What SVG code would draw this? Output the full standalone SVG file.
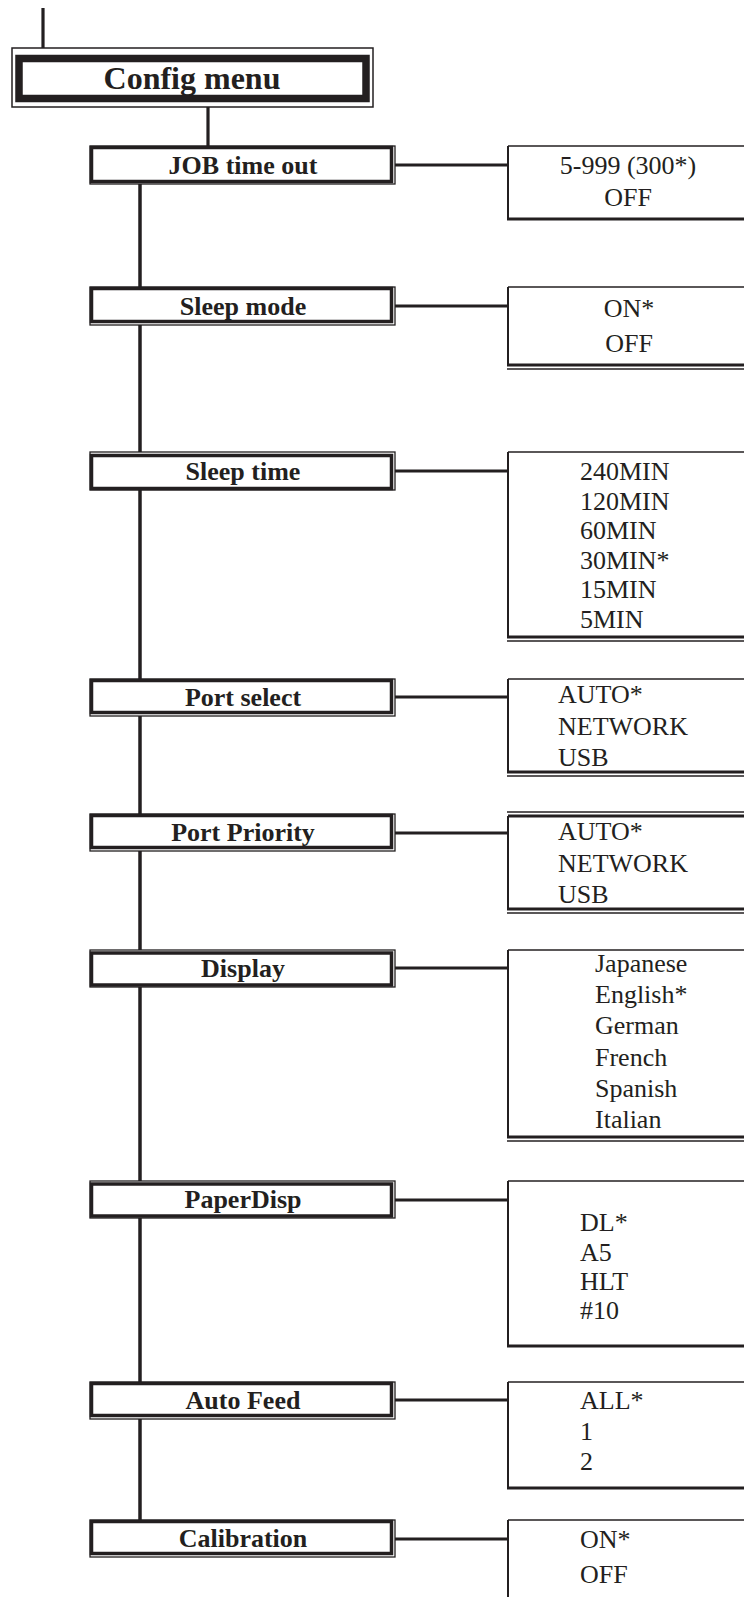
<svg xmlns="http://www.w3.org/2000/svg" width="744" height="1597" viewBox="0 0 744 1597">
<style>
.bg{fill:#ffffff}
.ln{stroke:#231f20;stroke-width:3.2;fill:none}
.spine{stroke:#231f20;stroke-width:3.5;fill:none}
.thin{stroke:#231f20;stroke-width:1.3;fill:#ffffff}
.thick{stroke:#231f20;stroke-width:3.5;fill:#ffffff}
.oleft{stroke:#231f20;stroke-width:2;fill:none}
.otop{stroke:#231f20;stroke-width:1.5;fill:none}
.obot{stroke:#231f20;stroke-width:3;fill:none}
.lbl{font-family:"Liberation Serif","Times New Roman",serif;font-weight:bold;font-size:26px;fill:#231f20;text-anchor:middle}
.opt{font-family:"Liberation Serif","Times New Roman",serif;font-size:26px;fill:#231f20}
.ctr{text-anchor:middle}
</style>
<rect class="bg" x="0" y="0" width="744" height="1597"/>

<g id="connectors">
<line class="ln" x1="43" y1="8" x2="43" y2="48"/>
<line class="ln" x1="208" y1="107" x2="208" y2="146"/>
<line class="spine" x1="140" y1="184" x2="140" y2="1522"/>
<line class="ln" x1="394" y1="165" x2="508" y2="165"/>
<line class="ln" x1="394" y1="306" x2="508" y2="306"/>
<line class="ln" x1="394" y1="471" x2="508" y2="471"/>
<line class="ln" x1="394" y1="697" x2="508" y2="697"/>
<line class="ln" x1="394" y1="833" x2="508" y2="833"/>
<line class="ln" x1="394" y1="968" x2="508" y2="968"/>
<line class="ln" x1="394" y1="1200" x2="508" y2="1200"/>
<line class="ln" x1="394" y1="1400" x2="508" y2="1400"/>
<line class="ln" x1="394" y1="1539" x2="508" y2="1539"/>
</g>

<g id="config-menu">
<rect x="12" y="48" width="361" height="59" fill="#ffffff" stroke="#231f20" stroke-width="1.5"/>
<rect x="19" y="58.5" width="347" height="40" fill="#ffffff" stroke="#231f20" stroke-width="7.5"/>
<text x="192" y="89" font-family="Liberation Serif, Times New Roman, serif" font-weight="bold" font-size="32" fill="#231f20" text-anchor="middle">Config menu</text>
</g>

<g id="job-time-out">
<rect class="thin" x="90" y="146" width="305" height="38"/>
<rect class="thick" x="91.5" y="147.5" width="300" height="34"/>
<text class="lbl" x="243" y="174">JOB time out</text>
</g>
<g id="job-time-out-options">
<path class="oleft" d="M508 146V219"/><path class="otop" d="M508 146H744"/><path class="obot" d="M507 219H744"/>
<text class="opt ctr" x="628" y="174">5-999 (300*)</text>
<text class="opt ctr" x="628" y="206">OFF</text>
</g>

<g id="sleep-mode">
<rect class="thin" x="90" y="287" width="305" height="38"/>
<rect class="thick" x="91.5" y="288.5" width="300" height="33"/>
<text class="lbl" x="243" y="315">Sleep mode</text>
</g>
<g id="sleep-mode-options">
<path class="oleft" d="M508 287V365"/><path class="otop" d="M508 287H744"/><path class="obot" d="M507 365H744"/><path class="otop" d="M507 369H744"/>
<text class="opt ctr" x="629" y="317">ON*</text>
<text class="opt ctr" x="629" y="352">OFF</text>
</g>

<g id="sleep-time">
<rect class="thin" x="90" y="452" width="305" height="38"/>
<rect class="thick" x="91.5" y="455.5" width="300" height="33"/>
<text class="lbl" x="243" y="480">Sleep time</text>
</g>
<g id="sleep-time-options">
<path class="oleft" d="M508 452V637"/><path class="otop" d="M508 452H744"/><path class="obot" d="M507 637H744"/><path class="otop" d="M507 641H744"/>
<text class="opt" x="580" y="480">240MIN</text>
<text class="opt" x="580" y="510">120MIN</text>
<text class="opt" x="580" y="539">60MIN</text>
<text class="opt" x="580" y="569">30MIN*</text>
<text class="opt" x="580" y="598">15MIN</text>
<text class="opt" x="580" y="628">5MIN</text>
</g>

<g id="port-select">
<rect class="thin" x="90" y="679" width="305" height="37"/>
<rect class="thick" x="91.5" y="680.5" width="300" height="32"/>
<text class="lbl" x="243" y="706">Port select</text>
</g>
<g id="port-select-options">
<path class="oleft" d="M508 679V772"/><path class="otop" d="M508 679H744"/><path class="obot" d="M507 772H744"/><path class="otop" d="M507 776H744"/>
<text class="opt" x="558" y="703">AUTO*</text>
<text class="opt" x="558" y="735">NETWORK</text>
<text class="opt" x="558" y="766">USB</text>
</g>

<g id="port-priority">
<rect class="thin" x="90" y="814" width="305" height="37"/>
<rect class="thick" x="91.5" y="815.5" width="300" height="32"/>
<text class="lbl" x="243" y="841">Port Priority</text>
</g>
<g id="port-priority-options">
<path class="oleft" d="M508 816V909"/><path class="otop" d="M507 812H744"/><path class="obot" d="M508 816H744"/><path class="obot" d="M507 909H744"/><path class="otop" d="M507 913H744"/>
<text class="opt" x="558" y="840">AUTO*</text>
<text class="opt" x="558" y="872">NETWORK</text>
<text class="opt" x="558" y="903">USB</text>
</g>

<g id="display">
<rect class="thin" x="90" y="950" width="305" height="37"/>
<rect class="thick" x="91.5" y="953" width="300" height="32"/>
<text class="lbl" x="243" y="977">Display</text>
</g>
<g id="display-options">
<path class="oleft" d="M508 950V1137"/><path class="otop" d="M508 950H744"/><path class="obot" d="M507 1137H744"/><path class="otop" d="M507 1141H744"/>
<text class="opt" x="595" y="972">Japanese</text>
<text class="opt" x="595" y="1003">English*</text>
<text class="opt" x="595" y="1034">German</text>
<text class="opt" x="595" y="1066">French</text>
<text class="opt" x="595" y="1097">Spanish</text>
<text class="opt" x="595" y="1128">Italian</text>
</g>

<g id="paperdisp">
<rect class="thin" x="90" y="1181" width="305" height="37"/>
<rect class="thick" x="91.5" y="1184" width="300" height="32"/>
<text class="lbl" x="243" y="1208">PaperDisp</text>
</g>
<g id="paperdisp-options">
<path class="oleft" d="M508 1181V1346"/><path class="otop" d="M508 1181H744"/><path class="obot" d="M507 1346H744"/>
<text class="opt" x="580" y="1231">DL*</text>
<text class="opt" x="580" y="1261">A5</text>
<text class="opt" x="580" y="1290">HLT</text>
<text class="opt" x="580" y="1319">#10</text>
</g>

<g id="auto-feed">
<rect class="thin" x="90" y="1382" width="305" height="37"/>
<rect class="thick" x="91.5" y="1383.5" width="300" height="32"/>
<text class="lbl" x="243" y="1409">Auto Feed</text>
</g>
<g id="auto-feed-options">
<path class="oleft" d="M508 1382V1488"/><path class="otop" d="M508 1382H744"/><path class="obot" d="M507 1488H744"/>
<text class="opt" x="580" y="1409">ALL*</text>
<text class="opt" x="580" y="1440">1</text>
<text class="opt" x="580" y="1470">2</text>
</g>

<g id="calibration">
<rect class="thin" x="90" y="1520" width="305" height="37"/>
<rect class="thick" x="91.5" y="1521.5" width="300" height="32"/>
<text class="lbl" x="243" y="1547">Calibration</text>
</g>
<g id="calibration-options">
<path class="oleft" d="M508 1520V1597"/><path class="otop" d="M508 1520H744"/>
<text class="opt" x="580" y="1548">ON*</text>
<text class="opt" x="580" y="1583">OFF</text>
</g>
</svg>
